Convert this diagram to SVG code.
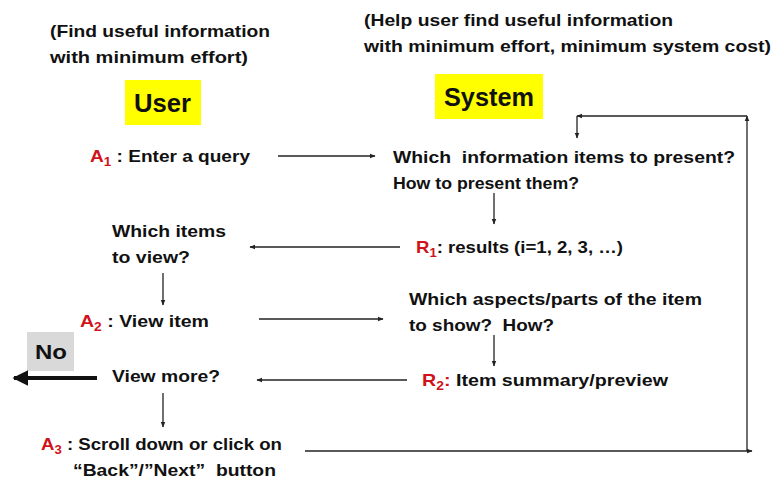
<svg xmlns="http://www.w3.org/2000/svg" width="773" height="481" viewBox="0 0 773 481">
<style>
text{font-family:"Liberation Sans",Arial,sans-serif;font-weight:bold;font-size:17px;fill:#111}
.r{fill:#d0121b}
.sub{font-size:12px}
.big{font-size:25px}
.ln{stroke:#222;stroke-width:1.3;fill:none}
</style>
<defs>
<marker id="ah" viewBox="0 0 10 10" refX="9" refY="5" markerWidth="6" markerHeight="6" orient="auto-start-reverse" markerUnits="userSpaceOnUse"><path d="M0,1 L10,5 L0,9 z" fill="#222"/></marker>
<marker id="ahb" viewBox="0 0 10 10" refX="9" refY="5" markerWidth="4" markerHeight="4" orient="auto"><path d="M0,0 L10,5 L0,10 z" fill="#111"/></marker>
</defs>
<g id="user-goal"><text x="50" y="37" textLength="220" lengthAdjust="spacingAndGlyphs">(Find useful information</text><text x="50" y="63" textLength="198" lengthAdjust="spacingAndGlyphs">with minimum effort)</text></g>
<g id="system-goal"><text x="364" y="26" textLength="309" lengthAdjust="spacingAndGlyphs">(Help user find useful information</text><text x="364" y="52" textLength="407" lengthAdjust="spacingAndGlyphs">with minimum effort, minimum system cost)</text></g>
<g id="user"><rect x="125" y="80" width="76" height="45" fill="#ffff00"/><text class="big" x="134" y="112" textLength="57" lengthAdjust="spacingAndGlyphs">User</text></g>
<g id="system"><rect x="435" y="74" width="108" height="45" fill="#ffff00"/><text class="big" x="444" y="106" textLength="90" lengthAdjust="spacingAndGlyphs">System</text></g>
<g id="a1"><text x="90" y="162" textLength="160" lengthAdjust="spacingAndGlyphs"><tspan class="r">A</tspan><tspan class="r sub" dy="4">1</tspan><tspan dy="-4"> : Enter a query</tspan></text></g>
<g id="which-present"><text x="393" y="163" textLength="342" lengthAdjust="spacingAndGlyphs">Which&#160; information items to present?</text><text x="393" y="189" textLength="186" lengthAdjust="spacingAndGlyphs">How to present them?</text></g>
<g id="r1"><text x="416" y="253" textLength="207" lengthAdjust="spacingAndGlyphs"><tspan class="r">R</tspan><tspan class="r sub" dy="4">1</tspan><tspan dy="-4">: results (i=1, 2, 3, …)</tspan></text></g>
<g id="which-items"><text x="112" y="237" textLength="114" lengthAdjust="spacingAndGlyphs">Which items</text><text x="112" y="263" textLength="78" lengthAdjust="spacingAndGlyphs">to view?</text></g>
<g id="a2"><text x="80" y="327" textLength="129" lengthAdjust="spacingAndGlyphs"><tspan class="r">A</tspan><tspan class="r sub" dy="4">2</tspan><tspan dy="-4"> : View item</tspan></text></g>
<g id="which-aspects"><text x="409" y="305" textLength="293" lengthAdjust="spacingAndGlyphs">Which aspects/parts of the item</text><text x="409" y="331" textLength="145" lengthAdjust="spacingAndGlyphs">to show?&#160; How?</text></g>
<g id="r2"><text x="422" y="386" textLength="246" lengthAdjust="spacingAndGlyphs"><tspan class="r">R</tspan><tspan class="r sub" dy="4">2</tspan><tspan class="r" dy="-4">:</tspan><tspan> Item summary/preview</tspan></text></g>
<g id="view-more"><text x="112" y="382" textLength="108" lengthAdjust="spacingAndGlyphs">View more?</text></g>
<g id="no"><rect x="27" y="332" width="47" height="39" fill="#d9d9d9"/><text x="35" y="359" style="font-size:21px" textLength="32" lengthAdjust="spacingAndGlyphs">No</text></g>
<g id="a3"><text x="41" y="450" textLength="241" lengthAdjust="spacingAndGlyphs"><tspan class="r">A</tspan><tspan class="r sub" dy="4">3</tspan><tspan dy="-4"> : Scroll down or click on</tspan></text><text x="73" y="476" textLength="203" lengthAdjust="spacingAndGlyphs">“Back”/”Next”&#160; button</text></g>
<g id="connectors">
<line class="ln" x1="278" y1="156" x2="375" y2="156" marker-end="url(#ah)"/>
<line class="ln" x1="494" y1="193" x2="494" y2="224" marker-end="url(#ah)"/>
<line class="ln" x1="400" y1="247" x2="250" y2="247" marker-end="url(#ah)"/>
<line class="ln" x1="163" y1="273" x2="163" y2="305" marker-end="url(#ah)"/>
<line class="ln" x1="259" y1="319" x2="383" y2="319" marker-end="url(#ah)"/>
<line class="ln" x1="494" y1="335" x2="494" y2="366" marker-end="url(#ah)"/>
<line class="ln" x1="407" y1="380" x2="257" y2="380" marker-end="url(#ah)"/>
<line class="ln" x1="163" y1="393" x2="163" y2="427" marker-end="url(#ah)"/>
<line x1="97" y1="378" x2="14" y2="378" stroke="#111" stroke-width="4" marker-end="url(#ahb)"/>
<line class="ln" x1="305" y1="451" x2="752" y2="451" marker-end="url(#ah)"/>
<line class="ln" x1="747" y1="451" x2="747" y2="116" marker-end="url(#ah)"/>
<line class="ln" x1="747" y1="116" x2="577" y2="116" marker-end="url(#ah)"/>
<line class="ln" x1="577" y1="116" x2="577" y2="138" marker-end="url(#ah)"/>
</g>
</svg>
